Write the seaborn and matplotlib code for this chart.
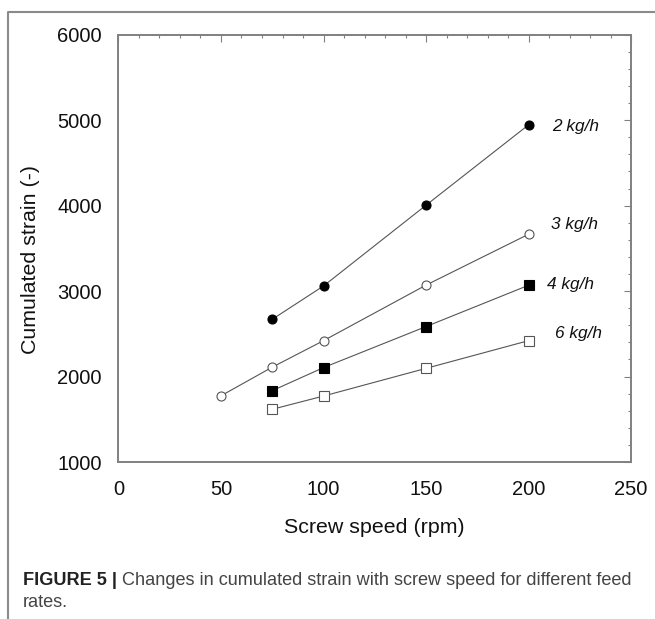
import matplotlib
matplotlib.use('Agg')
import matplotlib.pyplot as plt
import numpy as np
import pandas as pd
import seaborn as sns
from matplotlib import font_manager
from matplotlib.lines import Line2D
from matplotlib.ticker import MultipleLocator

# data
speed_2 = [75, 100, 150, 200]
strain_2 = [2670, 3060, 4005, 4945]
speed_3 = [50, 75, 100, 150, 200]
strain_3 = [1775, 2110, 2420, 3070, 3665]
speed_4 = [75, 100, 150, 200]
strain_4 = [1835, 2105, 2585, 3068]
speed_6 = [75, 100, 150, 200]
strain_6 = [1617, 1772, 2096, 2420]

rate_labels = ['2 kg/h', '3 kg/h', '4 kg/h', '6 kg/h']
label_x = [211.5, 211.0, 209.0, 213.0]
label_y = [4930, 3780, 3080, 2505]

sns.set_style('white')
plt.rcParams['font.family'] = ['Liberation Sans', 'DejaVu Sans']

fig = plt.figure(figsize=(6.55, 6.19), dpi=100)
ax = fig.add_axes([0.1809, 0.2536, 0.7825, 0.6903])

series = [
    (speed_2, strain_2, 'o', 'black', 'black'),
    (speed_3, strain_3, 'o', 'white', '#555555'),
    (speed_4, strain_4, 's', 'black', 'black'),
    (speed_6, strain_6, 's', 'white', '#555555'),
]
for xs, ys, mk, fc, ec in series:
    df = pd.DataFrame({'speed': xs, 'strain': ys})
    sns.lineplot(data=df, x='speed', y='strain', ax=ax, color='#555555', lw=0.8,
                 marker=mk, markersize=6.5, markerfacecolor=fc, markeredgecolor=ec,
                 markeredgewidth=0.8, zorder=3)

for lab, lx, ly in zip(rate_labels, label_x, label_y):
    ax.text(lx, ly, lab, ha='left', va='center', fontsize=12.4, style='italic', color='#111111')

ax.set_xlim(0, 250)
ax.set_ylim(1000, 6000)
ax.xaxis.set_major_locator(MultipleLocator(50))
ax.xaxis.set_minor_locator(MultipleLocator(10))
ax.yaxis.set_major_locator(MultipleLocator(1000))
ax.yaxis.set_minor_locator(MultipleLocator(200))
ax.tick_params(which='both', direction='in', top=True, right=True, color='#808080', width=0.8)
ax.tick_params(which='major', length=5)
ax.tick_params(which='minor', length=2.5)
ax.tick_params(axis='both', labelsize=14.5, labelcolor='#111111')
ax.tick_params(axis='x', pad=13)
ax.tick_params(axis='y', pad=12)
for sp in ax.spines.values():
    sp.set_color('#808080')
    sp.set_linewidth(1.4)

ax.set_xlabel('Screw speed (rpm)', fontsize=15.4, color='#111111', va='baseline')
ax.xaxis.set_label_coords(0.5, -0.1655)
ax.set_ylabel('Cumulated strain (-)', fontsize=15.4, color='#111111', va='center')
ax.yaxis.set_label_coords(-0.1717, 0.475)

# outer frame (left and top)
fig.add_artist(Line2D([8 / 655, 8 / 655, 1.0], [0.0, 1 - 12 / 619, 1 - 12 / 619],
                      transform=fig.transFigure, color='#8a8a8a', lw=1.5))

# caption
cap_family = ['Liberation Sans Narrow', 'Liberation Sans']
try:
    font_manager.findfont(font_manager.FontProperties(family='Liberation Sans Narrow'),
                          fallback_to_default=False)
except Exception:
    cap_family = ['Liberation Sans']

x0 = 22.7 / 655
y1 = (619 - 585) / 619
y2 = (619 - 607) / 619
renderer = fig.canvas.get_renderer()
size = 13.0
t_bold = fig.text(x0, y1, 'FIGURE 5 |', fontsize=size, fontweight='bold', color='#222222',
                  va='baseline', family=cap_family)
t_rest = fig.text(x0, y1, ' Changes in cumulated strain with screw speed for different feed',
                  fontsize=size, color='#444444', va='baseline', family=cap_family)
t_two = fig.text(x0, y2, 'rates.', fontsize=size, color='#444444', va='baseline', family=cap_family)
for _ in range(3):
    wb = t_bold.get_window_extent(renderer).width
    wr = t_rest.get_window_extent(renderer).width
    size = size * 608 / (wb + wr)
    for t in (t_bold, t_rest, t_two):
        t.set_fontsize(size)
    wb = t_bold.get_window_extent(renderer).width
    t_rest.set_x(x0 + wb / 655)

fig.savefig('out.png', dpi=100)
